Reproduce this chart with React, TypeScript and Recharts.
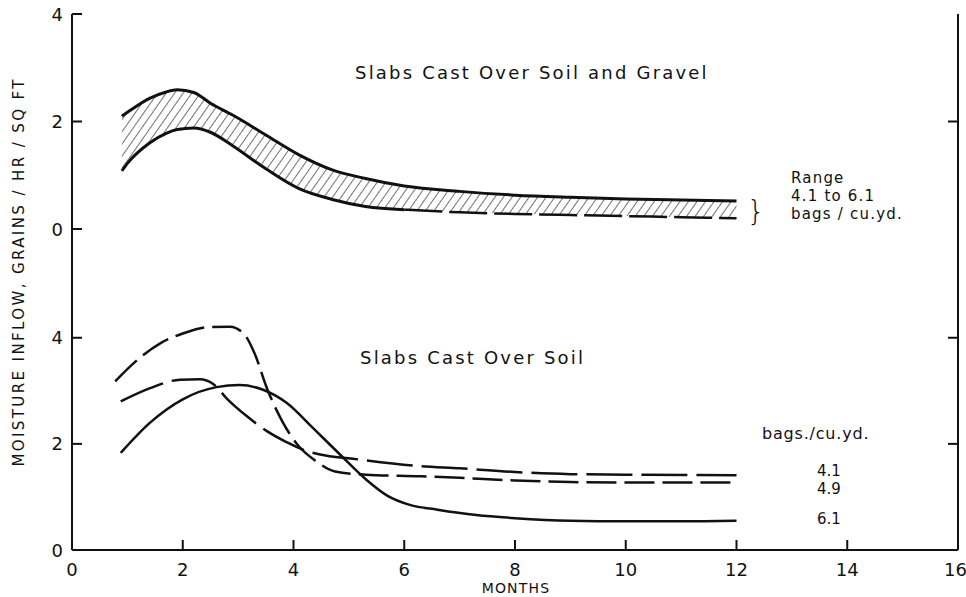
import React from 'react';
import { ComposedChart, LineChart, Line, Area, XAxis, YAxis } from 'recharts';

// upper panel: slabs over soil and gravel (range band 4.1 to 6.1 bags)
const topMonths = [0.9, 1.0, 1.4, 1.7, 1.9, 2.2, 2.5, 2.9, 3.5, 4.1, 4.7, 5.3, 6.0, 7, 8, 9, 10, 11, 12];
const topUpper = [2.1, 2.17, 2.43, 2.55, 2.59, 2.54, 2.34, 2.12, 1.75, 1.38, 1.1, 0.94, 0.8, 0.7, 0.63, 0.59, 0.56, 0.54, 0.52];
const topLower = [1.08, 1.22, 1.6, 1.78, 1.85, 1.88, 1.8, 1.55, 1.12, 0.75, 0.55, 0.42, 0.36, 0.31, 0.28, 0.26, 0.24, 0.22, 0.2];
const lowerDashedFrom = 6;

// lower panel: slabs over soil
const months41 = [0.88, 1.41, 1.95, 2.31, 2.55, 2.8, 3.16, 3.52, 3.88, 4.17, 4.48, 5.07, 6.3, 7, 8, 9, 10, 12];
const bags41 = [2.8, 3.05, 3.21, 3.22, 3.13, 2.85, 2.52, 2.24, 2.03, 1.89, 1.8, 1.72, 1.58, 1.54, 1.47, 1.43, 1.42, 1.41];
const months49 = [0.78, 1.2, 1.6, 2.0, 2.45, 2.85, 3.1, 3.3, 3.52, 3.8, 4.1, 4.4, 4.75, 5.3, 6.3, 7, 8, 9, 10, 12];
const bags49 = [3.18, 3.6, 3.9, 4.08, 4.2, 4.21, 4.08, 3.7, 3.05, 2.42, 1.95, 1.68, 1.48, 1.42, 1.39, 1.36, 1.31, 1.28, 1.27, 1.27];
const months61 = [0.88, 1.41, 2.0, 2.61, 3.03, 3.45, 3.88, 4.35, 4.84, 5.32, 5.7, 6.1, 6.6, 7.3, 8, 9, 10, 11, 12];
const bags61 = [1.83, 2.4, 2.84, 3.07, 3.11, 3.02, 2.77, 2.3, 1.8, 1.32, 1.02, 0.85, 0.76, 0.66, 0.6, 0.55, 0.54, 0.54, 0.55];

const xTicks = [0, 2, 4, 6, 8, 10, 12, 14, 16];
const innerXTicks = [2, 4, 6, 8, 10, 12, 14];
const yTicks = [0, 2, 4];

const topRows = topMonths.map((m, i) => ({
  month: m,
  upper: topUpper[i],
  lowerSolid: m <= lowerDashedFrom ? topLower[i] : null,
  lowerDashed: m >= lowerDashedFrom ? topLower[i] : null,
  band: [topLower[i], topUpper[i]],
}));
const toRows = (ms: number[], vs: number[]) => ms.map((m, i) => ({ month: m, value: vs[i] }));
const rows41 = toRows(months41, bags41);
const rows49 = toRows(months49, bags49);
const rows61 = toRows(months61, bags61);

const FONT = '"DejaVu Sans", Verdana, sans-serif';
const INK = '#111';
const axisLine = { stroke: INK, strokeWidth: 2 };
const tickLine = { stroke: INK, strokeWidth: 2 };
const TICK = -10; // ticks point into the plot

// with a negative tickSize the label anchor sits at the inner end of the tick
const leftLabel = (p: any) => (
  <text x={p.x + TICK - 9} y={p.y} textAnchor="end" dominantBaseline="central" fontSize={18} fontFamily={FONT} fill={INK}>
    {p.payload.value}
  </text>
);
const bottomLabel = (p: any) => {
  const v = Number(p.payload.value);
  return (
    <text
      x={v === 16 ? p.x + 9 : p.x}
      y={p.y - TICK + 19}
      textAnchor={v === 16 ? 'end' : 'middle'}
      dominantBaseline="central"
      fontSize={18}
      fontFamily={FONT}
      fill={INK}
    >
      {p.payload.value}
    </text>
  );
};
const noLabel = () => <g />;

export default function App() {
  const txt = { fontFamily: FONT, fill: INK } as const;
  return (
    <div style={{ position: 'relative', width: 966, height: 597, background: '#fff' }}>
      <style>{'body{margin:0}'}</style>
      <svg width={0} height={0} style={{ position: 'absolute' }}>
        <defs>
          <pattern id="hatch" width={7} height={7} patternUnits="userSpaceOnUse" patternTransform="rotate(35)">
            <line x1={0} y1={0} x2={0} y2={7} stroke={INK} strokeWidth={1.2} />
          </pattern>
        </defs>
      </svg>

      <div style={{ position: 'absolute', left: 0, top: 0 }}>
        <ComposedChart width={966} height={241} data={topRows} margin={{ top: 14, right: 0, bottom: 12, left: 0 }}>
          <XAxis xAxisId="b" dataKey="month" type="number" domain={[0, 16]} ticks={xTicks} height={0} tick={false} tickLine={false} axisLine={axisLine} />
          <XAxis xAxisId="t" dataKey="month" orientation="top" type="number" domain={[0, 16]} ticks={innerXTicks} interval={0} height={0} tickSize={TICK} tickMargin={0} tickLine={tickLine} tick={noLabel} axisLine={axisLine} />
          <YAxis yAxisId="l" type="number" domain={[0, 4]} ticks={yTicks} interval={0} width={72} tickSize={TICK} tickMargin={0} tickLine={tickLine} tick={leftLabel} axisLine={axisLine} />
          <YAxis yAxisId="r" orientation="right" type="number" domain={[0, 4]} ticks={[2]} interval={0} width={8} tickSize={TICK} tickMargin={0} tickLine={tickLine} tick={noLabel} axisLine={axisLine} />
          <Area xAxisId="b" yAxisId="l" type="monotone" dataKey="band" fill="url(#hatch)" fillOpacity={1} stroke="none" isAnimationActive={false} />
          <Line xAxisId="t" yAxisId="l" type="monotone" dataKey="upper" stroke={INK} strokeWidth={3} dot={false} isAnimationActive={false} />
          <Line xAxisId="b" yAxisId="l" type="monotone" dataKey="lowerSolid" stroke={INK} strokeWidth={3} dot={false} isAnimationActive={false} />
          <Line xAxisId="b" yAxisId="r" type="monotone" dataKey="lowerDashed" stroke={INK} strokeWidth={2.5} strokeDasharray="38 7" dot={false} isAnimationActive={false} />
        </ComposedChart>
      </div>

      <div style={{ position: 'absolute', left: 0, top: 229 }}>
        <LineChart width={966} height={368} margin={{ top: 0, right: 0, bottom: 0, left: 0 }}>
          <XAxis dataKey="month" type="number" domain={[0, 16]} ticks={xTicks} interval={0} height={47} tickSize={TICK} tickMargin={0} tickLine={tickLine} tick={bottomLabel} axisLine={axisLine} />
          <YAxis yAxisId="l" type="number" domain={[0, 6.05]} ticks={yTicks} interval={0} width={72} tickSize={TICK} tickMargin={0} tickLine={tickLine} tick={leftLabel} axisLine={axisLine} />
          <YAxis yAxisId="r" orientation="right" type="number" domain={[0, 6.05]} ticks={[2, 4]} interval={0} width={8} tickSize={TICK} tickMargin={0} tickLine={tickLine} tick={noLabel} axisLine={axisLine} />
          <Line yAxisId="l" data={rows41} dataKey="value" type="monotone" stroke={INK} strokeWidth={2.5} strokeDasharray="46 9" dot={false} isAnimationActive={false} />
          <Line yAxisId="l" data={rows49} dataKey="value" type="monotone" stroke={INK} strokeWidth={2.5} strokeDasharray="30 8" dot={false} isAnimationActive={false} />
          <Line yAxisId="r" data={rows61} dataKey="value" type="monotone" stroke={INK} strokeWidth={2.5} dot={false} isAnimationActive={false} />
        </LineChart>
      </div>

      <svg width={966} height={597} style={{ position: 'absolute', left: 0, top: 0, pointerEvents: 'none' }}>
        <text {...txt} x={19} y={273} transform="rotate(-90 19 273)" textAnchor="middle" dominantBaseline="central" fontSize={15} textLength={387} lengthAdjust="spacing">
          MOISTURE INFLOW, GRAINS / HR / SQ FT
        </text>
        <text {...txt} x={516} y={588} textAnchor="middle" dominantBaseline="central" fontSize={14} letterSpacing={1.2}>
          MONTHS
        </text>
        <text {...txt} x={355} y={72} dominantBaseline="central" fontSize={18} letterSpacing={2.2}>
          Slabs Cast Over Soil and Gravel
        </text>
        <text {...txt} x={360} y={357} dominantBaseline="central" fontSize={18} letterSpacing={2.2}>
          Slabs Cast Over Soil
        </text>
        <text {...txt} x={747} y={211} dominantBaseline="central" fontSize={28} fontWeight={300}>
          {'}'}
        </text>
        <text {...txt} x={791} y={178} dominantBaseline="central" fontSize={15} letterSpacing={1.2}>Range</text>
        <text {...txt} x={791} y={196} dominantBaseline="central" fontSize={15} letterSpacing={1.2}>4.1 to 6.1</text>
        <text {...txt} x={791} y={214} dominantBaseline="central" fontSize={15} letterSpacing={1.2}>bags / cu.yd.</text>
        <text {...txt} x={762} y={433} dominantBaseline="central" fontSize={16} letterSpacing={0.8}>bags./cu.yd.</text>
        <text {...txt} x={829} y={471} textAnchor="middle" dominantBaseline="central" fontSize={15}>4.1</text>
        <text {...txt} x={829} y={489} textAnchor="middle" dominantBaseline="central" fontSize={15}>4.9</text>
        <text {...txt} x={829} y={519} textAnchor="middle" dominantBaseline="central" fontSize={15}>6.1</text>
      </svg>
    </div>
  );
}
